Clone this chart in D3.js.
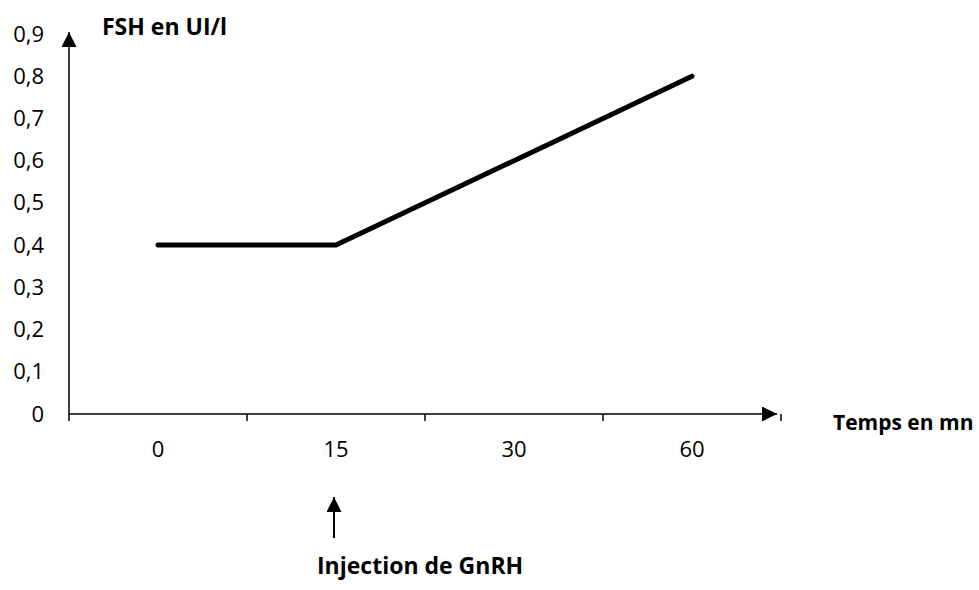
<!DOCTYPE html>
<html>
<head>
<meta charset="utf-8">
<title>FSH</title>
<script src="https://cdn.jsdelivr.net/npm/d3@7"></script>
<style>
  body { margin: 0; background: #fff; }
  text { font-family: "Open Sans", "Noto Sans", sans-serif; fill: #000; }
</style>
</head>
<body>
<div id="chart"></div>
<script>
// data
var categories = ["0", "15", "30", "60"];
var fshValues = [0.4, 0.4, 0.6, 0.8];
var yTicks = [0, 0.1, 0.2, 0.3, 0.4, 0.5, 0.6, 0.7, 0.8, 0.9];
var yTitle = "FSH en UI/l";
var xTitle = "Temps en mn";
var noteText = "Injection de GnRH";
var noteAt = "15";

var width = 979, height = 590;

var svg = d3.select("#chart").append("svg")
    .attr("width", width)
    .attr("height", height);

var defs = svg.append("defs");
defs.append("marker")
    .attr("id", "arrow")
    .attr("viewBox", "0 0 10 10")
    .attr("refX", 10).attr("refY", 5)
    .attr("markerUnits", "userSpaceOnUse")
    .attr("markerWidth", 16).attr("markerHeight", 15)
    .attr("orient", "auto")
  .append("path")
    .attr("d", "M0,0 L10,5 L0,10 Z")
    .attr("fill", "#000");

var x = d3.scaleBand()
    .domain(categories)
    .range([69, 781])
    .padding(0);

var y = d3.scaleLinear()
    .domain([0, 0.9])
    .range([414, 34]);

var comma = function(d) { return String(d).replace(".", ","); };

// y axis labels
var yAxis = svg.append("g")
    .attr("transform", "translate(69,0)")
    .call(d3.axisLeft(y).tickValues(yTicks).tickSize(0).tickPadding(25).tickFormat(comma));
yAxis.select(".domain").remove();
yAxis.selectAll("text").style("font-size", "22px");

// y axis line with arrow
svg.append("line")
    .attr("x1", 69).attr("y1", y(0))
    .attr("x2", 69).attr("y2", 32)
    .attr("stroke", "#000").attr("stroke-width", 1.5)
    .attr("marker-end", "url(#arrow)");

// x axis labels
var xAxis = svg.append("g")
    .attr("transform", "translate(0," + y(0) + ")")
    .call(d3.axisBottom(x).tickSize(0).tickPadding(27));
xAxis.select(".domain").remove();
xAxis.selectAll("text").style("font-size", "22px");

// boundary ticks
var bounds = categories.map(function(c) { return x(c); }).concat([x.range()[1]]);
svg.selectAll(".xtick")
    .data(bounds)
  .enter().append("line")
    .attr("class", "xtick")
    .attr("x1", function(d) { return d; })
    .attr("x2", function(d) { return d; })
    .attr("y1", y(0))
    .attr("y2", y(0) + 7)
    .attr("stroke", "#000").attr("stroke-width", 1.5);

// x axis line with arrow
svg.append("line")
    .attr("x1", 69).attr("y1", y(0))
    .attr("x2", 777).attr("y2", y(0))
    .attr("stroke", "#000").attr("stroke-width", 1.5)
    .attr("marker-end", "url(#arrow)");

// series
var line = d3.line()
    .x(function(d, i) { return x(categories[i]) + x.bandwidth() / 2; })
    .y(function(d) { return y(d); });

svg.append("path")
    .datum(fshValues)
    .attr("d", line)
    .attr("fill", "none")
    .attr("stroke", "#000")
    .attr("stroke-width", 5)
    .attr("stroke-linecap", "round")
    .attr("stroke-linejoin", "round");

// titles
svg.append("text")
    .attr("x", 102).attr("y", 35)
    .style("font-size", "23px").style("font-weight", "bold")
    .text(yTitle);

svg.append("text")
    .attr("x", 833).attr("y", 430)
    .style("font-size", "21px").style("font-weight", "bold")
    .text(xTitle);

// injection arrow and note
var noteX = x(noteAt) + x.bandwidth() / 2 - 2;
svg.append("line")
    .attr("x1", noteX).attr("y1", 538)
    .attr("x2", noteX).attr("y2", 497)
    .attr("stroke", "#000").attr("stroke-width", 2)
    .attr("marker-end", "url(#arrow)");

svg.append("text")
    .attr("x", noteX - 17).attr("y", 574)
    .style("font-size", "23px").style("font-weight", "bold")
    .text(noteText);
</script>
</body>
</html>
